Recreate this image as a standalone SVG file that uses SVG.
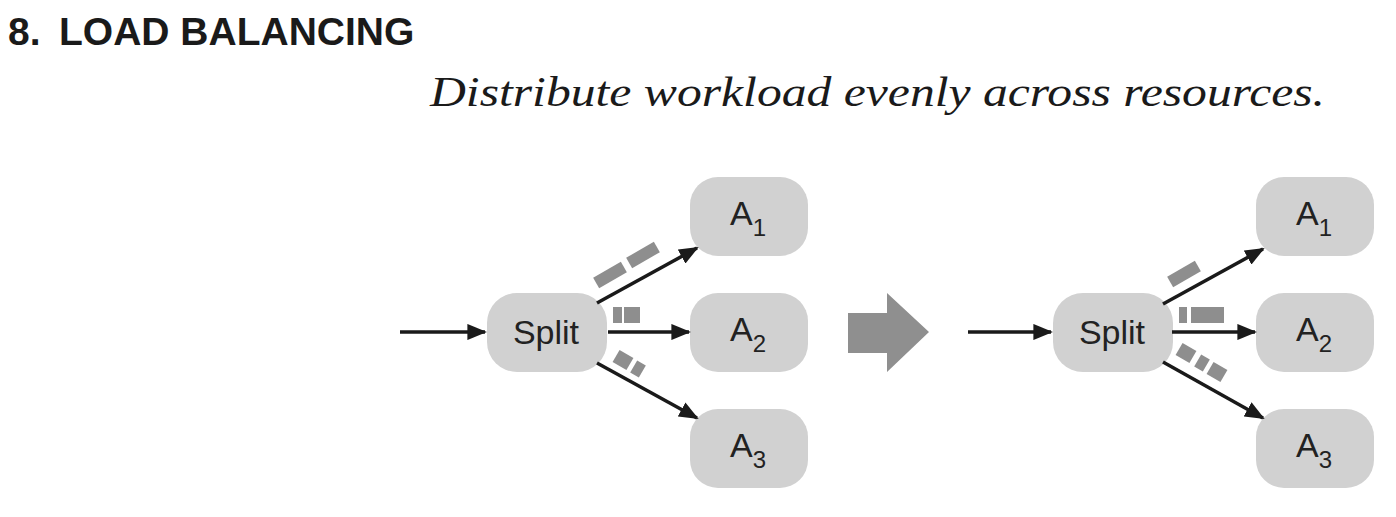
<svg xmlns="http://www.w3.org/2000/svg" width="1396" height="517" viewBox="0 0 1396 517">
<defs>
<marker id="ah" viewBox="0 0 10 10" refX="9" refY="5" markerWidth="5.6" markerHeight="4.6" markerUnits="strokeWidth" orient="auto" preserveAspectRatio="none">
<path d="M0,0 L10,5 L0,10 z" fill="#1a1a1a"/>
</marker>
<style>
.box{fill:#d1d1d1}
.lbl{font-family:"Liberation Sans",Arial,sans-serif;font-size:34px;fill:#222}
.sub{font-size:24px}
.blk{fill:#8e8e8e}
.con{stroke:#1a1a1a;stroke-width:3.5;fill:none;marker-end:url(#ah)}
</style>
</defs>
<rect width="1396" height="517" fill="#fff"/>
<text x="8" y="45" font-family="Liberation Sans, Arial, sans-serif" font-weight="bold" font-size="39" fill="#1a1a1a">8.<tspan x="59">LOAD BALANCING</tspan></text>
<text x="430" y="106" font-family="Liberation Serif, Times New Roman, serif" font-style="italic" font-size="42" fill="#1a1a1a" textLength="895" lengthAdjust="spacingAndGlyphs">Distribute workload evenly across resources.</text>

<g id="left-split"><rect class="box" x="487" y="293" width="120" height="79" rx="30"/><text class="lbl" x="546" y="344" text-anchor="middle">Split</text></g>
<g id="left-a1"><rect class="box" x="690" y="177" width="118" height="79" rx="28"/><text class="lbl" x="730" y="225">A<tspan class="sub" dy="11">1</tspan></text></g>
<g id="left-a2"><rect class="box" x="690" y="293" width="118" height="79" rx="28"/><text class="lbl" x="730" y="341">A<tspan class="sub" dy="11">2</tspan></text></g>
<g id="left-a3"><rect class="box" x="690" y="409" width="118" height="79" rx="28"/><text class="lbl" x="730" y="457">A<tspan class="sub" dy="11">3</tspan></text></g>

<g id="right-split"><rect class="box" x="1053" y="293" width="120" height="79" rx="30"/><text class="lbl" x="1112" y="344" text-anchor="middle">Split</text></g>
<g id="right-a1"><rect class="box" x="1256" y="177" width="118" height="79" rx="28"/><text class="lbl" x="1296" y="225">A<tspan class="sub" dy="11">1</tspan></text></g>
<g id="right-a2"><rect class="box" x="1256" y="293" width="118" height="79" rx="28"/><text class="lbl" x="1296" y="341">A<tspan class="sub" dy="11">2</tspan></text></g>
<g id="right-a3"><rect class="box" x="1256" y="409" width="118" height="79" rx="28"/><text class="lbl" x="1296" y="457">A<tspan class="sub" dy="11">3</tspan></text></g>

<g id="transition"><path d="M848,313 H887 V293 L929,332 L887,372 V353 H848 Z" fill="#8f8f8f"/></g>

<g id="connectors">
<line class="con" x1="400" y1="332" x2="485" y2="332"/>
<line class="con" x1="597" y1="303" x2="697" y2="248"/>
<line class="con" x1="608" y1="332" x2="689" y2="332"/>
<line class="con" x1="597" y1="363" x2="697" y2="418"/>
<line class="con" x1="968" y1="332" x2="1051" y2="332"/>
<line class="con" x1="1163" y1="304" x2="1263" y2="249"/>
<line class="con" x1="1172" y1="332" x2="1255" y2="332"/>
<line class="con" x1="1163" y1="362" x2="1263" y2="418"/>
</g>

<g id="loads">
<rect class="blk" x="-16" y="-6" width="32" height="12" transform="translate(610,275) rotate(-30)"/>
<rect class="blk" x="-16" y="-6" width="32" height="12" transform="translate(643,255) rotate(-30)"/>
<rect class="blk" x="613" y="307" width="9" height="16"/>
<rect class="blk" x="624" y="307" width="16" height="16"/>
<rect class="blk" x="-8" y="-7" width="16" height="14" transform="translate(623,360) rotate(30)"/>
<rect class="blk" x="-5" y="-7" width="10" height="14" transform="translate(638,369) rotate(30)"/>

<rect class="blk" x="-16" y="-6" width="32" height="12" transform="translate(1184,274) rotate(-30)"/>
<rect class="blk" x="1179" y="307" width="8" height="16"/>
<rect class="blk" x="1191" y="307" width="33" height="16"/>
<rect class="blk" x="-8" y="-7" width="16" height="14" transform="translate(1186,353) rotate(30)"/>
<rect class="blk" x="-5" y="-7" width="10" height="14" transform="translate(1202,363) rotate(30)"/>
<rect class="blk" x="-8" y="-7" width="16" height="14" transform="translate(1217,372) rotate(30)"/>
</g>
</svg>
